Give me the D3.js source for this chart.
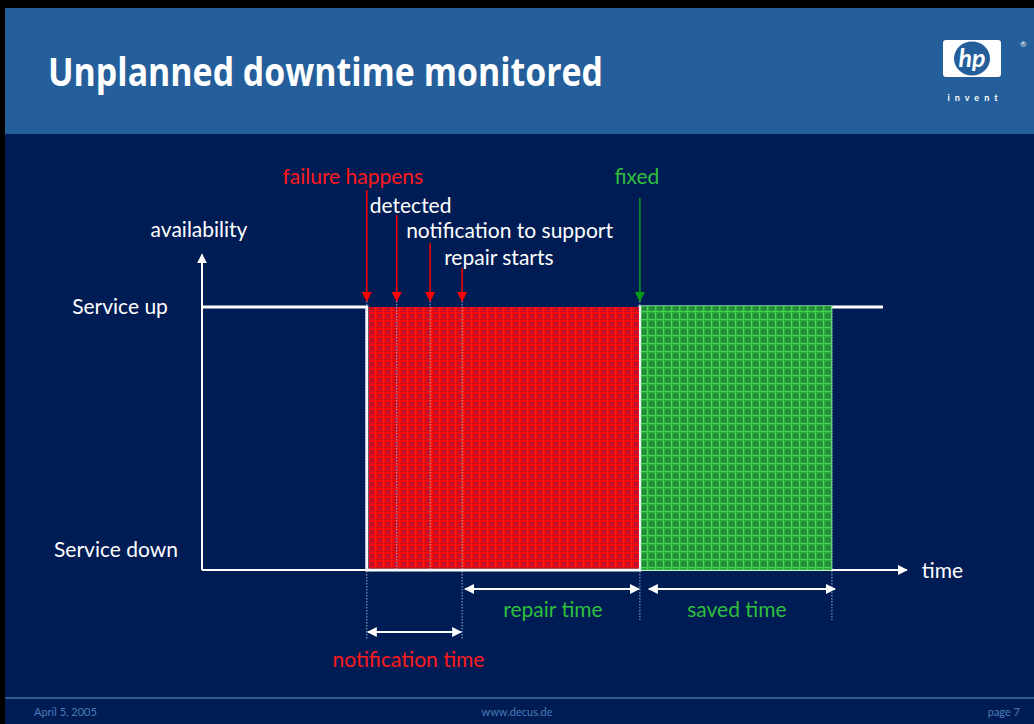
<!DOCTYPE html>
<html>
<head>
<meta charset="utf-8">
<script src="https://cdn.jsdelivr.net/npm/d3@7"></script>
<style>
  body { margin: 0; background: #000; }
  svg { display: block; }
  text { font-family: Lato, "Open Sans", sans-serif; }
</style>
</head>
<body>
<svg id="slide" width="1034" height="724"></svg>
<script>
// data
var eventNames = ["failure happens", "detected", "notification to support", "repair starts", "fixed"];
var eventTimes = [24.2, 28.6, 33.5, 38.2, 64.3];
var eventKinds = ["bad", "info", "info", "info", "good"];

var availTimes = [0, 24.2, 64.3, 100];
var availLevels = [1, 0, 1, 1];

var spanNames = ["notification time", "repair time", "saved time"];
var spanFrom = [24.2, 38.2, 64.3];
var spanTo = [38.2, 64.3, 92.5];

var levelLabels = ["Service down", "Service up"];

var svg = d3.select("#slide"),
    W = 1034, H = 724;

var col = {
  head: "#245e9b", body: "#001c54", foot: "#4c7ab8"
};

// frame
svg.append("rect").attr("width", W).attr("height", H).attr("fill", "#000");
svg.append("rect").attr("x", 5).attr("y", 8).attr("width", W - 5).attr("height", 126).attr("fill", col.head);
svg.append("rect").attr("x", 5).attr("y", 134).attr("width", W - 5).attr("height", H - 134).attr("fill", col.body);
svg.append("line").attr("x1", 5).attr("x2", W).attr("y1", 698).attr("y2", 698)
    .attr("stroke", "#3d6fae").attr("stroke-width", 1.5);

svg.append("text").attr("x", 48).attr("y", 86)
    .attr("fill", "#fff").attr("font-size", 40).attr("font-weight", 700)
    .style("font-family", "'Liberation Sans Narrow', 'Open Sans', sans-serif")
    .attr("textLength", 555).attr("lengthAdjust", "spacingAndGlyphs")
    .text("Unplanned downtime monitored");

// hp logo
var logo = svg.append("g").attr("transform", "translate(943,40)");
logo.append("rect").attr("width", 58).attr("height", 37).attr("rx", 3).attr("fill", "#fff");
logo.append("ellipse").attr("cx", 29).attr("cy", 18.5).attr("rx", 18).attr("ry", 17).attr("fill", col.head);
logo.append("text").attr("x", 29).attr("y", 27).attr("text-anchor", "middle")
    .attr("fill", "#fff").attr("font-size", 25).attr("font-weight", 700).attr("font-style", "italic")
    .text("hp");
svg.append("text").attr("x", 1020).attr("y", 47).attr("fill", "#fff").attr("font-size", 8).text("®");
svg.append("text").attr("x", 975).attr("y", 101).attr("text-anchor", "middle")
    .attr("fill", "#fff").attr("font-size", 9).attr("font-weight", 700)
    .attr("letter-spacing", 5).text("invent");

// footer
var foot = [["April 5, 2005", 34, "start"], ["www.decus.de", 517, "middle"], ["page 7", 1020, "end"]];
foot.forEach(function (f) {
  svg.append("text").attr("x", f[1]).attr("y", 716).attr("text-anchor", f[2])
      .attr("fill", col.foot).attr("font-size", 11).text(f[0]);
});

// patterns
var defs = svg.append("defs");
var pr = defs.append("pattern").attr("id", "redfill").attr("patternUnits", "userSpaceOnUse")
    .attr("width", 8).attr("height", 8);
pr.append("rect").attr("width", 8).attr("height", 8).attr("fill", "#f50a0a");
pr.append("rect").attr("x", 2).attr("y", 2).attr("width", 4).attr("height", 4).attr("fill", "#a8143a");
pr.append("rect").attr("x", 3).attr("y", 3).attr("width", 2).attr("height", 2).attr("fill", "#e00818");
pr.append("rect").attr("x", 0).attr("y", 7).attr("width", 8).attr("height", 1).attr("fill", "#c0102c");
pr.append("rect").attr("x", 7).attr("y", 0).attr("width", 1).attr("height", 8).attr("fill", "#ff1a10");

var pg = defs.append("pattern").attr("id", "greenfill").attr("patternUnits", "userSpaceOnUse")
    .attr("width", 8).attr("height", 8);
pg.append("rect").attr("width", 8).attr("height", 8).attr("fill", "#2aa63a");
pg.append("rect").attr("x", 2).attr("y", 2).attr("width", 4).attr("height", 4).attr("fill", "#1d7a3c");
pg.append("rect").attr("x", 3).attr("y", 3).attr("width", 2).attr("height", 2).attr("fill", "#2e9c3e");
pg.append("rect").attr("x", 0).attr("y", 7).attr("width", 8).attr("height", 1).attr("fill", "#48d056");
pg.append("rect").attr("x", 7).attr("y", 0).attr("width", 1).attr("height", 8).attr("fill", "#48d056");

function marker(id, color) {
  defs.append("marker").attr("id", id).attr("viewBox", "0 0 10 10")
      .attr("refX", 9).attr("refY", 5).attr("markerWidth", 10).attr("markerHeight", 10)
      .attr("markerUnits", "userSpaceOnUse").attr("orient", "auto-start-reverse")
    .append("path").attr("d", "M0,0L10,5L0,10Z").attr("fill", color);
}
marker("arW", "#fff");
marker("arR", "#ff0000");
marker("arG", "#0c9a1c");

// scales
var x = d3.scaleLinear().domain([0, 100]).range([202, 883]);
var y = d3.scaleLinear().domain([0, 1]).range([570, 307]);
var xEnd = 103.5, yEnd = 1.2;

// shaded regions
var down = { from: availTimes[1], to: availTimes[2] };
var saved = { from: spanFrom[2], to: spanTo[2] };

// axes
svg.append("line").attr("x1", x(0)).attr("x2", x(0)).attr("y1", y(0)).attr("y2", y(yEnd))
    .attr("stroke", "#fff").attr("stroke-width", 2).attr("marker-end", "url(#arW)");
svg.append("line").attr("x1", x(0)).attr("x2", x(xEnd)).attr("y1", y(0)).attr("y2", y(0))
    .attr("stroke", "#fff").attr("stroke-width", 2).attr("marker-end", "url(#arW)");
svg.append("text").attr("x", x(0) - 3).attr("y", y(yEnd) - 17).attr("text-anchor", "middle")
    .attr("fill", "#fff").attr("font-size", 21).text("availability");
svg.append("text").attr("x", x(xEnd) + 15).attr("y", y(0) + 8)
    .attr("fill", "#fff").attr("font-size", 21).text("time");
svg.selectAll(".lvl").data(levelLabels).enter().append("text")
    .attr("x", function (d, i) { return i ? 120 : 116; })
    .attr("y", function (d, i) { return i ? y(1) + 7 : y(0) - 13; })
    .attr("text-anchor", "middle").attr("fill", "#fff").attr("font-size", 21)
    .text(function (d) { return d; });

// availability step line
var pts = availTimes.map(function (t, i) { return [t, availLevels[i]]; });
svg.append("path").datum(pts)
    .attr("d", d3.line().x(function (d) { return x(d[0]); }).y(function (d) { return y(d[1]); })
      .curve(d3.curveStepAfter))
    .attr("fill", "none").attr("stroke", "#fff").attr("stroke-width", 3);

svg.append("rect").attr("x", x(down.from) + 2).attr("y", y(1))
    .attr("width", x(down.to) - x(down.from) - 3).attr("height", y(0) - y(1) - 1.5)
    .attr("fill", "url(#redfill)");
svg.append("rect").attr("x", x(saved.from) + 1.5).attr("y", y(1) - 1)
    .attr("width", x(saved.to) - x(saved.from) - 1.5).attr("height", y(0) - y(1) + 1)
    .attr("fill", "url(#greenfill)").attr("stroke", "#4fd35c").attr("stroke-width", 1)
    .attr("stroke-opacity", 0.7);

// event arrows + labels
var labelPos = [
  { dx: -14, y: 184, top: 190, anchor: "middle" },
  { dx: -27, y: 213, top: 215, anchor: "start" },
  { dx: -24, y: 238, top: 243, anchor: "start" },
  { dx: -18, y: 265, top: 268, anchor: "start" },
  { dx: -3,  y: 184, top: 198, anchor: "middle" }
];
var kindColor = { bad: "#ff1a1a", info: "#ffffff", good: "#2fbf3c" };
var arrowColor = { bad: "#ff0000", info: "#ff0000", good: "#0c9a1c" };
var arrowMark = { bad: "arR", info: "arR", good: "arG" };

var ev = svg.selectAll(".ev").data(eventNames).enter().append("g");
ev.append("line")
    .attr("x1", function (d, i) { return x(eventTimes[i]); })
    .attr("x2", function (d, i) { return x(eventTimes[i]); })
    .attr("y1", function (d, i) { return labelPos[i].top; })
    .attr("y2", y(1) - 6)
    .attr("stroke", function (d, i) { return arrowColor[eventKinds[i]]; })
    .attr("stroke-width", 1.5)
    .attr("marker-end", function (d, i) { return "url(#" + arrowMark[eventKinds[i]] + ")"; });
ev.append("line")
    .attr("x1", function (d, i) { return x(eventTimes[i]); })
    .attr("x2", function (d, i) { return x(eventTimes[i]); })
    .attr("y1", y(1) - 6)
    .attr("y2", function (d, i) { return i === 0 || i === 3 ? 640 : (i === 4 ? 620 : y(0)); })
    .attr("stroke", "#c8d4f0").attr("stroke-width", 1).attr("stroke-dasharray", "1.5,1.5")
    .attr("opacity", 0.8);
ev.append("text")
    .attr("x", function (d, i) { return x(eventTimes[i]) + labelPos[i].dx; })
    .attr("y", function (d, i) { return labelPos[i].y; })
    .attr("text-anchor", function (d, i) { return labelPos[i].anchor; })
    .attr("fill", function (d, i) { return kindColor[eventKinds[i]]; })
    .attr("font-size", 21)
    .text(function (d) { return d; });

// end of saved time marker
svg.append("line").attr("x1", x(spanTo[2])).attr("x2", x(spanTo[2]))
    .attr("y1", y(1)).attr("y2", 620)
    .attr("stroke", "#c8d4f0").attr("stroke-width", 1).attr("stroke-dasharray", "1.5,1.5").attr("opacity", 0.8);

// span arrows
var spanY = [632, 589, 589];
var spanPad = [[1, 1], [3, 1], [9, -3]];
var spanColor = ["#ff1a1a", "#2fbf3c", "#2fbf3c"];
var spanTextY = [667, 617, 617];
var spanShift = [-6, 2, 1];
var sp = svg.selectAll(".sp").data(spanNames).enter().append("g");
sp.append("line")
    .attr("x1", function (d, i) { return x(spanFrom[i]) + spanPad[i][0]; })
    .attr("x2", function (d, i) { return x(spanTo[i]) - spanPad[i][1]; })
    .attr("y1", function (d, i) { return spanY[i]; })
    .attr("y2", function (d, i) { return spanY[i]; })
    .attr("stroke", "#fff").attr("stroke-width", 2)
    .attr("marker-start", "url(#arW)").attr("marker-end", "url(#arW)");
sp.append("text")
    .attr("x", function (d, i) { return (x(spanFrom[i]) + x(spanTo[i])) / 2 + spanShift[i]; })
    .attr("y", function (d, i) { return spanTextY[i]; })
    .attr("text-anchor", "middle")
    .attr("fill", function (d, i) { return spanColor[i]; })
    .attr("font-size", 21)
    .text(function (d) { return d; });
</script>
</body>
</html>
